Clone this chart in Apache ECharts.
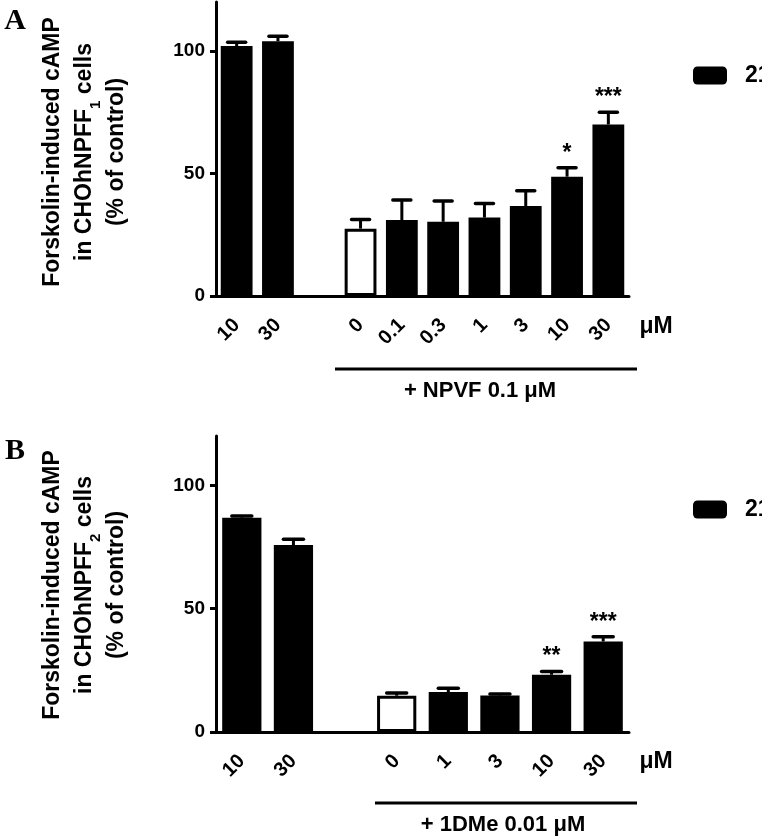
<!DOCTYPE html>
<html><head><meta charset="utf-8">
<script src="https://cdn.jsdelivr.net/npm/echarts@6/dist/echarts.min.js"></script>
<style>html,body{margin:0;padding:0;background:#fff}#c{width:762px;height:838px}</style>
</head><body><div id="c"></div>
<script>
// Panel A data (CHOhNPFF1, + NPVF 0.1 µM)
const catsA = ['10', '30', '', '0', '0.1', '0.3', '1', '3', '10', '30'];
const valsA = [102, 104, null, 27.5, 31, 30.3, 32, 36.7, 48.7, 70];
const errA  = [1.6, 2, null, 3.7, 8.2, 8.5, 5.8, 6.3, 3.6, 5];
const sigA  = ['', '', '', '', '', '', '', '', '*', '***'];
// Panel B data (CHOhNPFF2, + 1DMe 0.01 µM)
const catsB = ['10', '30', '', '0', '1', '3', '10', '30'];
const valsB = [86.9, 75.8, null, 14.7, 16.2, 14.8, 23.2, 36.7];
const errB  = [0.7, 2.3, null, 1.1, 1.5, 0.6, 1.3, 1.9];
const sigB  = ['', '', '', '', '', '', '**', '***'];
const controlIndex = 3;
const yTicks = [0, 50, 100];
const seriesName = '21';

const FONT = '"Liberation Sans", Arial, sans-serif';
const chart = echarts.init(document.getElementById('c'));

function barData(vals) {
  return vals.map((v, i) => v == null ? '-' :
    (i === controlIndex ? { value: v, itemStyle: { color: '#fff', borderColor: '#000', borderWidth: 3 } } : v));
}
function errData(vals, errs) {
  const out = [];
  vals.forEach((v, i) => { if (v != null) out.push([i, v, v + errs[i]]); });
  return out;
}
function errRender(sig, capW) {
  return function (params, api) {
    const i = api.value(0);
    const base = api.coord([i, api.value(1)]);
    const top = api.coord([i, api.value(2)]);
    const x = base[0];
    const children = [
      { type: 'line', shape: { x1: x, y1: base[1], x2: x, y2: top[1] }, style: { stroke: '#000', lineWidth: 3 } },
      { type: 'line', shape: { x1: x - capW / 2, y1: top[1], x2: x + capW / 2, y2: top[1] }, style: { stroke: '#000', lineWidth: 3.5, lineCap: 'round' } }
    ];
    if (sig[i]) {
      children.push({ type: 'text', style: { text: sig[i], x: x, y: top[1] - 3, fontSize: 23, fontWeight: 'bold', fontFamily: FONT, fill: '#000', align: 'center', verticalAlign: 'bottom' } });
    }
    return { type: 'group', children };
  };
}
function xAxisCfg(grid, cats) {
  return {
    gridIndex: grid, type: 'category', data: cats,
    axisLine: { lineStyle: { color: '#000', width: 3 } },
    axisTick: { alignWithLabel: true, interval: 0, length: 8, lineStyle: { color: '#000', width: 3 } },
    axisLabel: { interval: 0, rotate: 45, fontSize: 20, fontWeight: 'bold', fontFamily: FONT, color: '#000', margin: 26 },
    splitLine: { show: false }
  };
}
function yAxisCfg(grid) {
  return {
    gridIndex: grid, type: 'value', min: 0, max: 120, interval: 50,
    axisLine: { show: true, lineStyle: { color: '#000', width: 3 } },
    axisTick: { show: true, length: 6, customValues: yTicks, lineStyle: { color: '#000', width: 3 } },
    axisLabel: { customValues: yTicks, fontSize: 19, fontWeight: 'bold', fontFamily: FONT, color: '#000', margin: 11 },
    splitLine: { show: false }
  };
}
function legendCfg(top) {
  return {
    left: 688, top: top, itemWidth: 34, itemHeight: 18, icon: 'roundRect', data: [seriesName], selectedMode: false,
    textStyle: { fontSize: 23, fontWeight: 'bold', fontFamily: FONT, color: '#000', padding: [0, 0, 0, 13] }
  };
}
function yTitle(x, y, n) {
  return {
    type: 'text', x: x, y: y, rotation: Math.PI / 2,
    style: {
      text: 'Forskolin-induced cAMP\nin CHOhNPFF{sub|' + n + '} cells\n(% of control)',
      fontSize: 23, fontWeight: 'bold', fontFamily: FONT, fill: '#000', lineHeight: 32,
      align: 'center', verticalAlign: 'middle',
      rich: { sub: { fontSize: 15, fontWeight: 'bold', fontFamily: FONT, verticalAlign: 'bottom', lineHeight: 15, padding: [0, 0, -2, 0] } }
    }
  };
}
function txt(x, y, s, size, fam) {
  return { type: 'text', x: x, y: y, style: { text: s, fontSize: size, fontWeight: 'bold', fontFamily: fam || FONT, fill: '#000', align: 'center', verticalAlign: 'middle' } };
}

chart.setOption({
  animation: false,
  backgroundColor: '#fff',
  grid: [
    { left: 216, right: 133, top: 2, bottom: 542 },
    { left: 216, right: 133, top: 436, bottom: 106 }
  ],
  xAxis: [xAxisCfg(0, catsA), xAxisCfg(1, catsB)],
  yAxis: [yAxisCfg(0), yAxisCfg(1)],
  legend: [legendCfg(59), legendCfg(493)],
  series: [
    { name: seriesName, type: 'bar', xAxisIndex: 0, yAxisIndex: 0, data: barData(valsA), barWidth: '77%', itemStyle: { color: '#000' } },
    { name: 'errA', type: 'custom', xAxisIndex: 0, yAxisIndex: 0, data: errData(valsA, errA), encode: { x: 0, y: [1, 2] }, renderItem: errRender(sigA, 18), z: 5 },
    { name: seriesName, type: 'bar', xAxisIndex: 1, yAxisIndex: 1, data: barData(valsB), barWidth: '76%', itemStyle: { color: '#000' } },
    { name: 'errB', type: 'custom', xAxisIndex: 1, yAxisIndex: 1, data: errData(valsB, errB), encode: { x: 0, y: [1, 2] }, renderItem: errRender(sigB, 20), z: 5 }
  ],
  graphic: [
    txt(15, 21, 'A', 30, '"Liberation Serif", serif'),
    txt(15, 451, 'B', 30, '"Liberation Serif", serif'),
    yTitle(85, 152, '1'),
    yTitle(85, 585, '2'),
    txt(656, 327, 'μM', 23),
    txt(656, 762, 'μM', 23),
    { type: 'line', shape: { x1: 335, y1: 369, x2: 637, y2: 369 }, style: { stroke: '#000', lineWidth: 3 } },
    txt(480, 391, '+ NPVF 0.1 μM', 22),
    { type: 'line', shape: { x1: 375, y1: 803, x2: 637, y2: 803 }, style: { stroke: '#000', lineWidth: 3 } },
    txt(503, 825, '+ 1DMe 0.01 μM', 22)
  ]
});
</script>
</body></html>
